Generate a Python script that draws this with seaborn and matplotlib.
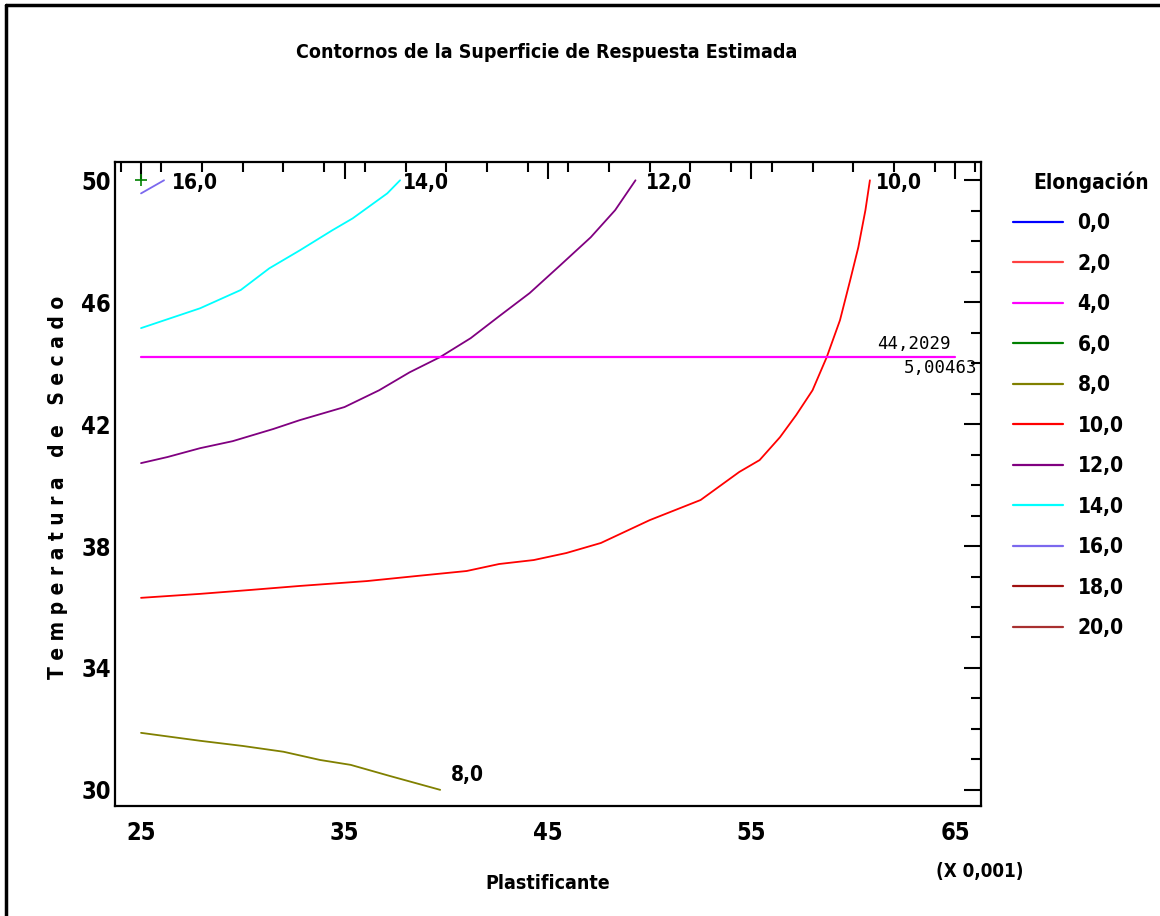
import seaborn as sns
import matplotlib.pyplot as plt
from matplotlib.lines import Line2D
from matplotlib.ticker import MultipleLocator
import pandas as pd

# legend levels and colours
levels = ['0,0', '2,0', '4,0', '6,0', '8,0', '10,0', '12,0', '14,0', '16,0', '18,0', '20,0']
level_colors = ['#0000ff', '#ff4040', '#ff00ff', '#008000', '#808000', '#ff0000',
                '#800080', '#00ffff', '#7b68ee', '#a01010', '#a83030']

# contour lines (Plastificante x 0,001 , Temperatura de Secado)
c8_x = [25, 27.9, 30.0, 32.0, 33.8, 35.3, 37.2, 39.7]
c8_y = [31.87, 31.61, 31.44, 31.25, 30.98, 30.82, 30.46, 30.0]

c10_x = [25, 27.9, 30.4, 32.8, 36.1, 38.6, 41.0, 42.6, 44.3, 45.9, 47.6, 50.0, 52.5,
         54.4, 55.4, 56.4, 57.2, 58.0, 58.7, 59.35, 59.85, 60.25, 60.6, 60.82]
c10_y = [36.30, 36.43, 36.56, 36.69, 36.85, 37.02, 37.18, 37.41, 37.54, 37.77, 38.10, 38.85, 39.51,
         40.43, 40.82, 41.57, 42.30, 43.11, 44.20, 45.41, 46.72, 47.80, 49.02, 50.0]

c12_x = [25, 26.3, 27.9, 29.5, 31.5, 32.8, 35.0, 36.7, 38.2, 39.7, 41.2, 42.6, 44.1,
         45.6, 47.1, 48.3, 49.3]
c12_y = [40.72, 40.92, 41.21, 41.44, 41.84, 42.13, 42.56, 43.11, 43.70, 44.20, 44.82, 45.54, 46.30,
         47.21, 48.13, 49.02, 50.0]

c14_x = [25, 27.9, 29.9, 31.3, 32.8, 34.4, 35.4, 37.1, 37.73]
c14_y = [45.15, 45.80, 46.40, 47.11, 47.70, 48.36, 48.75, 49.57, 50.0]

c16_x = [25, 26.13]
c16_y = [49.57, 50.0]

# contour label positions
lab_text = ['16,0', '14,0', '12,0', '10,0', '8,0']
lab_x = [26.5, 37.85, 49.8, 61.1, 40.25]
lab_y = [49.9, 49.9, 49.9, 49.9, 30.5]

# cursor
cursor_x = [25, 65]
cursor_y = 44.2029
cursor_text = ['44,2029', '5,00463']

df = pd.concat([
    pd.DataFrame({'x': c8_x, 'y': c8_y, 'level': '8,0'}),
    pd.DataFrame({'x': c10_x, 'y': c10_y, 'level': '10,0'}),
    pd.DataFrame({'x': c12_x, 'y': c12_y, 'level': '12,0'}),
    pd.DataFrame({'x': c14_x, 'y': c14_y, 'level': '14,0'}),
    pd.DataFrame({'x': c16_x, 'y': c16_y, 'level': '16,0'}),
], ignore_index=True)
palette = dict(zip(levels, level_colors))

sns.set_style("white")
plt.rcParams['font.family'] = ['DejaVu Sans']
plt.rcParams['font.stretch'] = 'condensed'
plt.rcParams['font.weight'] = 'bold'
plt.rcParams['axes.labelweight'] = 'bold'
for k in ['text.color', 'axes.labelcolor', 'xtick.color', 'ytick.color']:
    plt.rcParams[k] = 'black'

fig = plt.figure(figsize=(11.6, 9.16), dpi=100)
ax = fig.add_axes([115 / 1160, 1 - 806 / 916, 866 / 1160, 644 / 916])

sns.lineplot(data=df, x='x', y='y', hue='level', palette=palette, estimator=None,
             sort=False, legend=False, linewidth=1.3, ax=ax)

ax.plot(cursor_x, [cursor_y, cursor_y], color='#ff00ff', lw=1.6)
ax.plot([25], [50], marker='+', color='#008000', ms=9, mew=1.2)

for t, x, y in zip(lab_text, lab_x, lab_y):
    ax.text(x, y, t, ha='left', va='center', fontsize=15)

ax.text(64.8, cursor_y + 0.12, cursor_text[0], ha='right', va='bottom', fontsize=12.5,
        family='DejaVu Sans Mono', fontweight='normal', fontstretch='normal')
ax.text(66.1, cursor_y - 0.08, cursor_text[1], ha='right', va='top', fontsize=12.5,
        family='DejaVu Sans Mono', fontweight='normal', fontstretch='normal')

ax.set_xlim(23.72, 66.28)
ax.set_ylim(29.47, 50.6)
ax.set_xticks([25, 35, 45, 55, 65])
ax.set_yticks([30, 34, 38, 42, 46, 50])
ax.xaxis.set_minor_locator(MultipleLocator(2))
ax.yaxis.set_minor_locator(MultipleLocator(1))
ax.tick_params(which='both', direction='in', top=True, right=True, width=1.5, color='black')
ax.tick_params(which='major', length=12, labelsize=17)
ax.tick_params(which='minor', length=7)
ax.tick_params(axis='x', pad=11)
ax.tick_params(axis='y', pad=3)
for s in ax.spines.values():
    s.set_color('black')
    s.set_linewidth(1.6)

ax.set_xlabel('Plastificante', fontsize=14, fontweight='bold', va='top')
ax.xaxis.set_label_coords(0.5, -0.106)
ax.set_ylabel('T e m p e r a t u r a   d e   S e c a d o', fontsize=15, fontweight='bold')
ax.yaxis.set_label_coords(-0.054, 0.495)

fig.text(547 / 1160, 1 - 52 / 916, 'Contornos de la Superficie de Respuesta Estimada',
         ha='center', va='center', fontsize=14)
fig.text(980 / 1160, 1 - 872 / 916, '(X 0,001)', ha='center', va='center', fontsize=13.5)

fig.text(1091 / 1160, 1 - 182 / 916, 'Elongación', ha='center', va='center', fontsize=15)
handles = [Line2D([0], [0], color=c, lw=1.6) for c in level_colors]
leg = fig.legend(handles, levels, loc='upper left',
                 bbox_to_anchor=(1013 / 1160, 1 - 213 / 916), frameon=False,
                 fontsize=15, borderpad=0, borderaxespad=0,
                 handlelength=2.4, handletextpad=0.7, labelspacing=0.985)

# outer frame (top and left)
fig.add_artist(Line2D([6 / 1160, 1], [1 - 5 / 916, 1 - 5 / 916], transform=fig.transFigure,
                      color='black', lw=2.5))
fig.add_artist(Line2D([6 / 1160, 6 / 1160], [0, 1 - 5 / 916], transform=fig.transFigure,
                      color='black', lw=2.5))

fig.savefig('out.png', dpi=100)
